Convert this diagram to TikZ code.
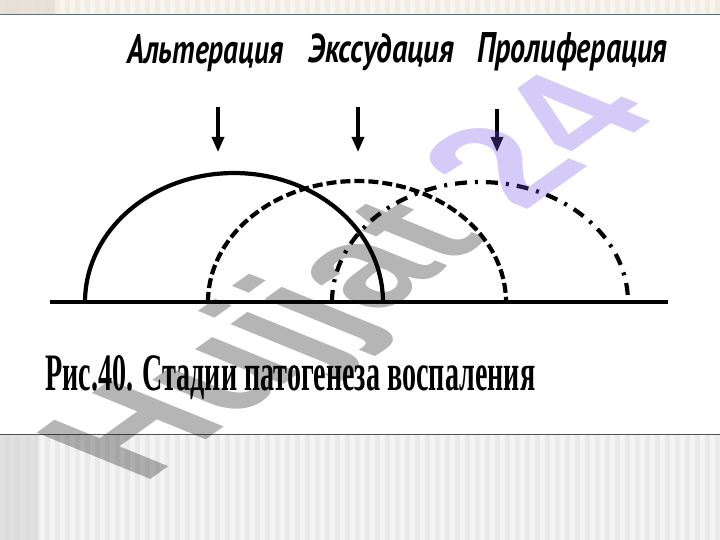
\documentclass[tikz,border=0pt]{standalone}
\usepackage{fontspec}
\setmainfont{Liberation Serif}
\newfontfamily\labfont{PT Sans}
\newfontfamily\wmfont{Liberation Sans}
\usetikzlibrary{arrows.meta}
\definecolor{topbase}{RGB}{242,236,228}
\definecolor{topstripe}{RGB}{248,244,238}
\definecolor{topdark}{RGB}{226,218,210}
\definecolor{topline}{RGB}{96,110,120}
\definecolor{botbase}{RGB}{234,234,234}
\definecolor{botstripe}{RGB}{244,244,244}
\definecolor{botdark}{RGB}{212,212,212}
\definecolor{botline}{RGB}{80,80,80}
\definecolor{wmgray}{RGB}{12,12,12}
\definecolor{wmlav}{RGB}{118,85,238}
\newcommand\stagelab[3]{\resizebox{#1}{#2}{\labfont\bfseries\itshape #3}}
\newcommand\captext[3]{\resizebox{#1}{#2}{\bfseries #3}}
\begin{document}
\begin{tikzpicture}[x=1pt,y=-1pt,
  lab/.style={anchor=base west, inner sep=0pt},
  arr/.style={line width=3.2pt, -{Triangle[length=15pt,width=12pt]}},
  ground/.style={line width=4.6pt},
  solidarc/.style={line width=4.2pt},
  dasharc/.style={line width=4.2pt, dash pattern=on 10pt off 4pt},
  dotdasharc/.style={line width=4.2pt, dash pattern=on 12pt off 8pt on 3pt off 8pt}]
\useasboundingbox (0,0) rectangle (720,540);
\fill[white] (0,0) rectangle (720,540);
% top band
\fill[topbase] (0,0) rectangle (720,14);
\foreach \i in {0,...,71} \fill[topstripe] ({\i*10},0) rectangle ({\i*10+5},14);
\fill[topdark, opacity=0.7] (0,0) rectangle (55,14);
\draw[topline, line width=1.2pt] (0,14.5) -- (720,14.5);
% bottom band
\fill[botbase] (0,435) rectangle (720,540);
\foreach \i in {0,...,71} \fill[botstripe] ({\i*10},435) rectangle ({\i*10+5},540);
\fill[botdark, opacity=0.6] (0,435) rectangle (38,540);
\draw[botline, line width=1pt] (0,434.5) -- (720,434.5);
% labels
\node[lab] (alt) at (127,64) {\stagelab{156pt}{29pt}{Альтерация}};
\node[lab] (exs) at (308,63) {\stagelab{146pt}{29pt}{Экссудация}};
\node[lab] (pro) at (477,63) {\stagelab{190pt}{30pt}{Пролиферация}};
% arrows
\coordinate (a1s) at (218,107); \coordinate (a1e) at (218,152);
\coordinate (a2s) at (358,107); \coordinate (a2e) at (358,152);
\coordinate (a3s) at (497,109); \coordinate (a3e) at (497,152);
\draw[arr] (a1s) -- (a1e);
\draw[arr] (a2s) -- (a2e);
\draw[arr] (a3s) -- (a3e);
% arcs
\draw[solidarc] plot[domain=180:360, samples=80] ({234+149*cos(\x)}, {302+129*sin(\x)});
\draw[dasharc] plot[domain=180:360, samples=80] ({357+149*cos(\x)}, {302+121*sin(\x)});
\draw[dotdasharc] plot[domain=180:360, samples=80] ({480+148*cos(\x)}, {302+120*sin(\x)});
% ground line
\coordinate (gl) at (50,302); \coordinate (gr) at (668,302);
\draw[ground] (gl) -- (gr);
% caption
\node[lab] (cap) at (45,390) {\captext{490pt}{35pt}{Рис.40. Стадии патогенеза воспаления}};
% watermark
\begin{scope}[shift={(360,282)}, xscale=1.85, transform shape]
\node[rotate=53, inner sep=0pt, text opacity=0.3, font=\wmfont\bfseries\fontsize{112}{112}\selectfont] (wm) at (0,0) {\textcolor{wmgray}{Hujjat} \textcolor{wmlav}{24}};
\end{scope}
\end{tikzpicture}
\end{document}
